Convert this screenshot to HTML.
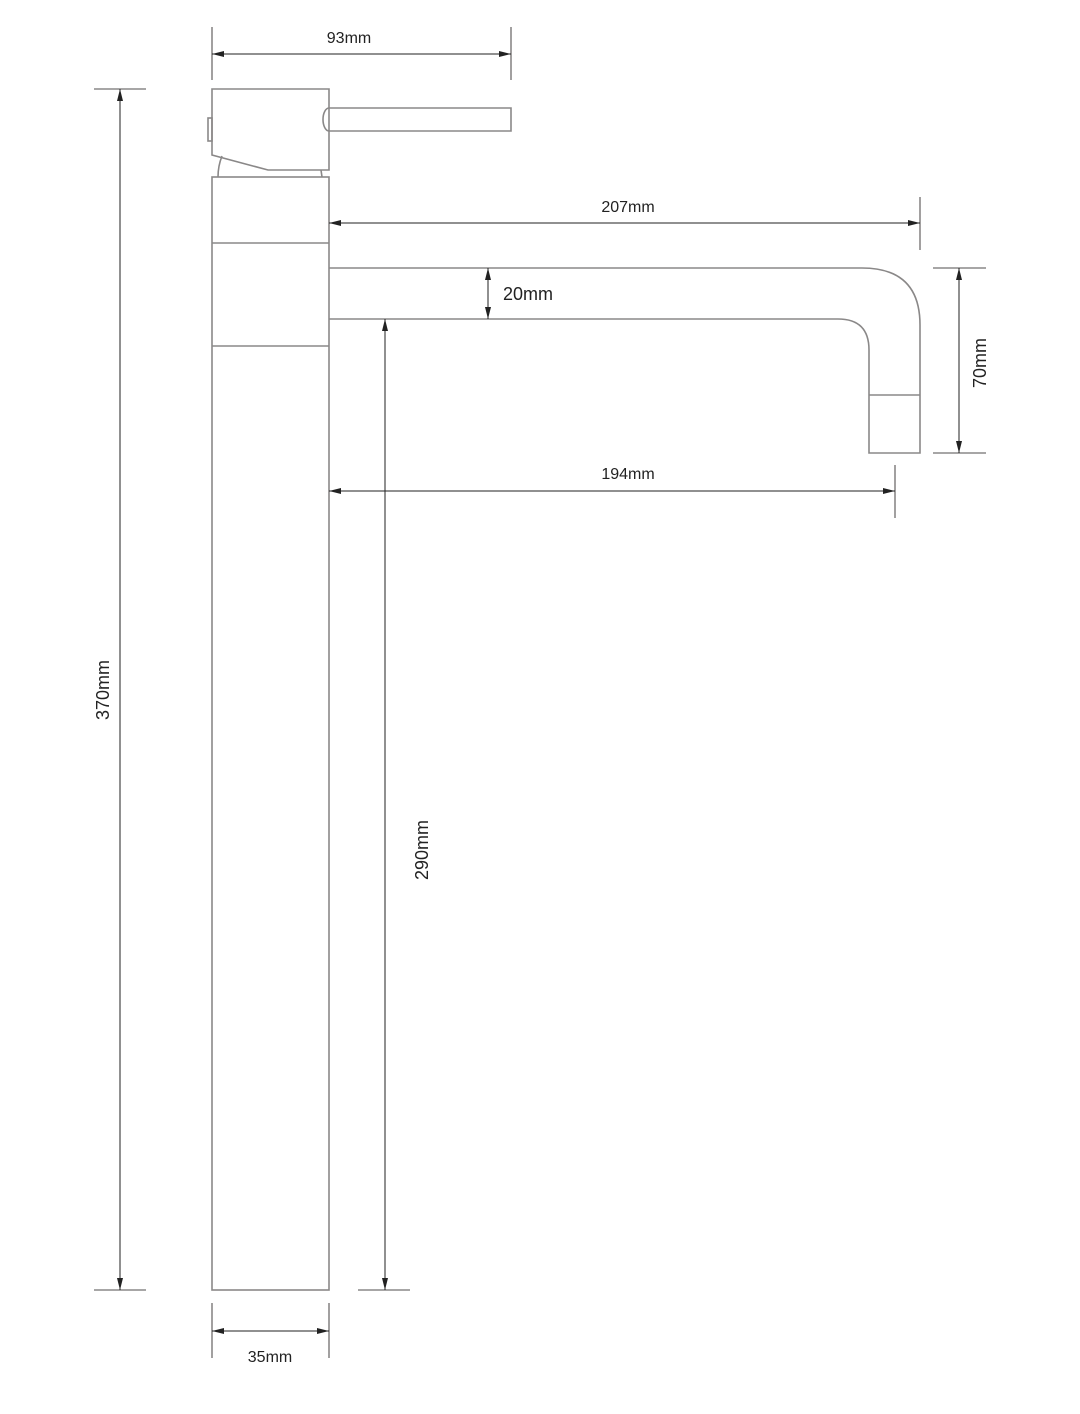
<!DOCTYPE html>
<html><head><style>html,body{margin:0;padding:0;background:#fff}svg{display:block}</style></head>
<body>
<svg width="1080" height="1414" viewBox="0 0 1080 1414" xmlns="http://www.w3.org/2000/svg" font-family="Liberation Sans, sans-serif">
<defs>
<marker id="a" viewBox="0 0 12 6" refX="12" refY="3" markerWidth="12" markerHeight="6" orient="auto-start-reverse" markerUnits="userSpaceOnUse"><path d="M0,0 L12,3 L0,6 Z" fill="#222"/></marker>
</defs>
<g fill="none" stroke="#8a8888" stroke-width="1.6">
<!-- handle body -->
<path d="M212,155 L212,89 L329,89 L329,170 L268,170 Z"/>
<rect x="208" y="118" width="4" height="23"/>
<path d="M329,108 L511,108 L511,131 L329,131 A6,11.5 0 0 1 329,108"/>
<path d="M222,156 Q218,166 218,177"/>
<path d="M321,170 L322,177"/>
<!-- column -->
<rect x="212" y="177" width="117" height="1113"/>
<line x1="212" y1="243" x2="329" y2="243"/>
<line x1="212" y1="346" x2="329" y2="346"/>
<!-- spout -->
<path d="M329,268 L862,268 Q920,268 920,325 L920,453 L869,453 L869,350 Q869,319 838,319 L329,319"/>
<line x1="869" y1="395" x2="920" y2="395"/>
<!-- extension lines -->
<line x1="212" y1="27" x2="212" y2="80"/>
<line x1="511" y1="27" x2="511" y2="80"/>
<line x1="94" y1="89" x2="146" y2="89"/>
<line x1="94" y1="1290" x2="146" y2="1290"/>
<line x1="920" y1="197" x2="920" y2="250"/>
<line x1="933" y1="268" x2="986" y2="268"/>
<line x1="933" y1="453" x2="986" y2="453"/>
<line x1="895" y1="465" x2="895" y2="518"/>
<line x1="358" y1="1290" x2="410" y2="1290"/>
<line x1="212" y1="1303" x2="212" y2="1358"/>
<line x1="329" y1="1303" x2="329" y2="1358"/>
</g>
<g stroke="#222" stroke-width="1" marker-start="url(#a)" marker-end="url(#a)">
<line x1="212" y1="54" x2="511" y2="54"/>
<line x1="120" y1="89" x2="120" y2="1290"/>
<line x1="329" y1="223" x2="920" y2="223"/>
<line x1="488" y1="268" x2="488" y2="319"/>
<line x1="959" y1="268" x2="959" y2="453"/>
<line x1="329" y1="491" x2="895" y2="491"/>
<line x1="212" y1="1331" x2="329" y2="1331"/>
</g>
<line x1="385" y1="319" x2="385" y2="1290" stroke="#222" stroke-width="1" marker-start="url(#a)" marker-end="url(#a)"/>
<g fill="#222" font-size="16" text-anchor="middle">
<text x="349" y="43">93mm</text>
<text x="628" y="212">207mm</text>
<text x="628" y="479">194mm</text>
<text x="270" y="1362">35mm</text>
<text x="528" y="300" font-size="18">20mm</text>
<text transform="translate(109,690) rotate(-90)" font-size="18">370mm</text>
<text transform="translate(428,850) rotate(-90)" font-size="18">290mm</text>
<text transform="translate(986,363) rotate(-90)" font-size="18">70mm</text>
</g>
</svg>
</body></html>
